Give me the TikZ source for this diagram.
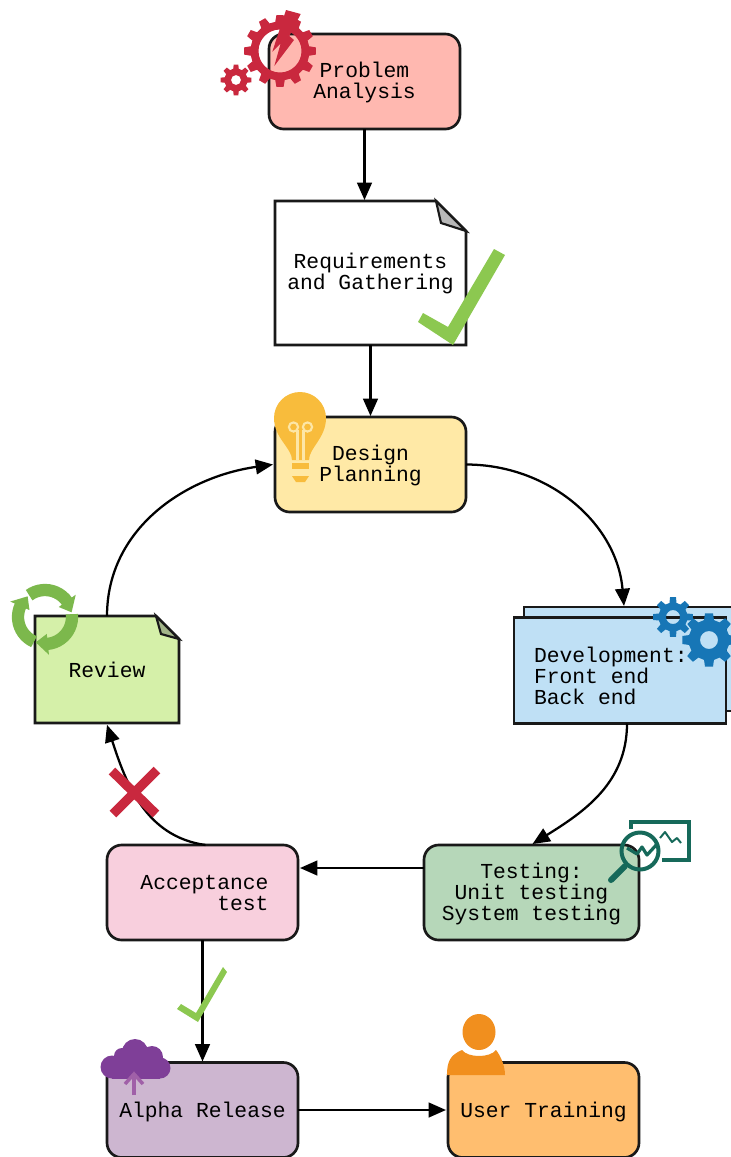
\documentclass[tikz,border=0pt]{standalone}
\usepackage{fontspec}
\setmainfont{Liberation Mono}
\usetikzlibrary{arrows.meta,calc}
\definecolor{cRed}{HTML}{C9283E}
\definecolor{cGreen}{HTML}{8CC850}
\definecolor{cBulb}{HTML}{F8BC3C}
\definecolor{cBulbL}{HTML}{FDE6A6}
\definecolor{cBlue}{HTML}{1776B6}
\definecolor{cTeal}{HTML}{16695A}
\definecolor{cRecy}{HTML}{7CB84C}
\definecolor{cPurp}{HTML}{7F3F98}
\definecolor{cPurpL}{HTML}{A060A8}
\definecolor{cOrange}{HTML}{F18F1E}
\newcommand{\gearicon}[7]{% x,y,outer,root,hole,teeth,colour
  \pgfmathsetmacro{\gstep}{360/#6}
  \pgfmathsetmacro{\gA}{\gstep*0.19}
  \pgfmathsetmacro{\gB}{\gstep*0.31}
  \pgfmathsetmacro{\gN}{#6-1}
  \fill[#7,even odd rule,shift={(#1,#2)}]
    (-\gB:#4)
    foreach \gi in {0,...,\gN}{
      -- ({\gi*\gstep-\gB}:#4) -- ({\gi*\gstep-\gA}:#3) -- ({\gi*\gstep+\gA}:#3) -- ({\gi*\gstep+\gB}:#4)
    } -- cycle
    (0,0) circle (#5);
}
\newcommand{\lowr}[1]{\rule{0pt}{#1}}
\tikzset{
  every node/.style={font=\fontsize{16pt}{15.75pt}\selectfont, text=black},
  box/.style={draw=black!90,line width=2pt,inner sep=0pt,outer sep=0pt,rounded corners=11pt,minimum width=143.25pt,minimum height=71.25pt,align=center},
  flat/.style={draw=black!90,line width=2pt,inner sep=0pt,outer sep=0pt,minimum width=#1},
  bare/.style={inner sep=0pt,outer sep=0pt,align=center},
  edge/.style={draw=black,line width=1.7pt,-{Triangle[length=13pt,width=11pt]}},
  doc/.style={draw=black!90,line width=2pt,line join=miter}
}
\begin{document}
\begin{tikzpicture}[x=.75pt,y=-.75pt]
\useasboundingbox (0,0) rectangle (731,1157);
\clip (0,0) rectangle (731,1157);
\fill[white] (0,0) rectangle (731,1157);
% boxes
\node[box,fill={rgb,255:red,255;green,184;blue,176}] (prob) at (364.5,81.5) {\lowr{13pt}Problem\\Analysis};
\draw[doc,fill=white] (275,201) -- (436,201) -- (466,231) -- (466,345) -- (275,345) -- cycle;
\node[bare,minimum width=143.25pt,minimum height=108pt] (req) at (370.5,273) {Requirements\\and Gathering};
\draw[doc,fill=black!28,line width=1.6pt] (436,201) -- (441,223) -- (466,231) -- cycle;
\node[box,fill={rgb,255:red,255;green,233;blue,166}] (design) at (370.5,464.5) {\lowr{13pt}Design\\Planning};
\node[flat=159pt,fill={rgb,255:red,191;green,224;blue,245},minimum height=78pt] (devback) at (630,659) {};
\node[flat=159pt,fill={rgb,255:red,191;green,224;blue,245},minimum height=79.5pt] (dev) at (620,670.5) {};
\node[bare,align=left,anchor=west] (devtext) at (534,675.5) {Development:\\Front end\\Back end};
\node[box,fill={rgb,255:red,182;green,215;blue,185},minimum width=161.25pt] (test) at (531.5,892.5) {\lowr{14.5pt}Testing:\\Unit testing\\System testing};
\node[box,fill={rgb,255:red,248;green,207;blue,221},align=right] (acc) at (202.5,892.5) {\hspace*{3pt}Acceptance\\test};
\draw[doc,fill={rgb,255:red,213;green,240;blue,169}] (35,616) -- (156,616) -- (179,639) -- (179,723) -- (35,723) -- cycle;
\node[bare,minimum width=108pt,minimum height=80pt] (rev) at (107,669.5) {Review};
\draw[doc,fill={rgb,255:red,163;green,181;blue,138},line width=1.6pt] (156,616) -- (161,634) -- (179,639) -- cycle;
\node[box,fill={rgb,255:red,205;green,182;blue,208}] (alpha) at (202.5,1110) {\lowr{14.5pt}Alpha Release};
\node[box,fill={rgb,255:red,255;green,190;blue,111}] (user) at (543.5,1110) {\lowr{14.5pt}User Training};
% connectors
\coordinate (d1) at ($(dev.south)+(7,0)$);
\coordinate (d2) at ($(devback.north)+(-6,-1)$);
\coordinate (t1) at ($(test.north)+(1,-1)$);
\coordinate (a1) at ($(acc.north)+(3,0)$);
\coordinate (r1) at ($(rev.south)+(0,2)$);
\path[edge] (prob.south) -- ($(prob.south |- req.north)+(0,-1)$);
\path[edge] (req.south) -- ($(design.north)+(0,-1)$);
\path[edge] (design.east) to[out=0,in=95] (d2);
\path[edge] (d1) to[out=-90,in=32] (t1);
\path[edge] (test.west |- 0,868) -- ($(acc.east |- 0,868)+(2,0)$);
\path[edge] (a1) to[out=172,in=-72] (r1);
\path[edge] (rev.north) to[out=90,in=188] ($(design.west)+(-2,0)$);
\path[edge] (acc.south) -- ($(alpha.north)+(0,-1)$);
\path[edge] (alpha.east) -- ($(user.west)+(-2,0)$);
% gears and bolt
\gearicon{280}{51}{36}{29.5}{21.5}{12}{cRed}
\gearicon{236}{80}{15.5}{11.5}{5}{8}{cRed}
\fill[cRed] (286,10) -- (300.7,14) -- (289.3,36) -- (294,40) -- (274.3,66) -- (280.7,43.3) -- (272.3,51.7) -- cycle;
% check marks
\fill[cGreen] (494,249) -- (505,255) -- (453,345) -- (418,322) -- (423,313) -- (448,327) -- cycle;
\fill[cGreen] (223,967) -- (227,972) -- (198,1022) -- (177,1009) -- (181,1004) -- (196,1013) -- cycle;
% bulb
\fill[cBulb] (292,460) .. controls (292,448) and (274,438) .. (274,418) arc[start angle=180,end angle=360,radius=26] .. controls (326,438) and (309,448) .. (309,460) -- cycle;
\fill[cBulb] (292,463) rectangle (309,469);
\fill[cBulb] (292,476) -- (309,476) -- (305,482) -- (296,482) -- cycle;
\draw[cBulbL,line width=1.6pt] (297.5,460) -- (297.5,430) (303.5,460) -- (303.5,430);
\draw[cBulbL,line width=1.6pt] (293.5,427) circle (4.6) (307.5,427) circle (4.6);
% development gears
\gearicon{673}{617}{20}{14.5}{7}{8}{cBlue}
\gearicon{709}{640}{27}{20.5}{9}{8}{cBlue}
% testing icon
\draw[cTeal,line width=3.6pt,line join=miter] (631,829) -- (631,822) -- (689,822) -- (689,860) -- (662,860);
\draw[cTeal,line width=1.5pt,line join=round] (660,838) -- (665,832) -- (672,842) -- (677,838) -- (681,843);
\draw[cTeal,line width=3pt] (640,851) circle (18.5);
\draw[cTeal,line width=4.5pt,line cap=round] (625,866) -- (611,880);
\draw[cTeal,line width=2.4pt,line join=round] (627,848) -- (637,854) -- (642,847) -- (647,855) -- (658,843);
% recycle
\begin{scope}[shift={(45,617)}]
\foreach \tp in {-10,110,-130}{
  \draw[cRecy,line width=9.2pt] ({\tp-116}:27) arc[start angle={\tp-116},end angle={\tp-24},radius=27];
  \fill[cRecy] ({\tp-26}:17) -- ({\tp-26}:38) -- (\tp:27) -- cycle;
}
\end{scope}
% cross
\draw[cRed,line width=7pt] (112,771) -- (156,814) (157,770) -- (113,814);
% cloud
\fill[cPurp] (135,1052) circle (13) (152,1057) circle (11) (160,1068) circle (10.5) (112,1067) circle (11.5) (122,1056) circle (8);
\fill[cPurp] (112,1060) rectangle (160,1078.5);
\draw[cPurpL,line width=2.6pt] (134,1095) -- (134,1074);
\draw[cPurpL,line width=2.6pt] (125,1084) -- (134,1074) -- (143,1084);
% user
\fill[cOrange] (479,1032) ellipse (16.5 and 18);
\fill[cOrange] (447,1075) .. controls (447,1062) and (450,1055) .. (462,1050) .. controls (468,1058) and (490,1058) .. (496,1050) .. controls (500,1055) and (505,1065) .. (505,1075) -- cycle;
\end{tikzpicture}
\end{document}
